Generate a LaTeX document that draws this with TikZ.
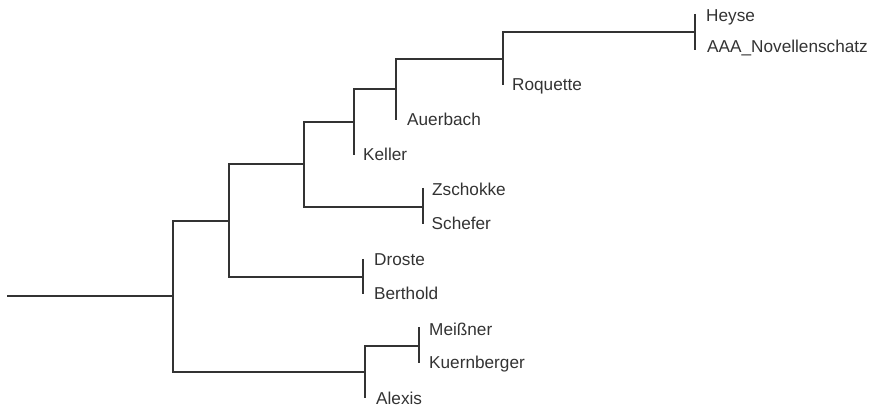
\documentclass[tikz,border=0pt]{standalone}
\usepackage{fontspec}
\setmainfont{Liberation Sans}
\definecolor{treeline}{HTML}{333333}
\definecolor{treetext}{HTML}{333333}
\begin{document}
\begin{tikzpicture}[x=1pt,y=-1pt,
  branch/.style={draw=treeline,line width=2.1pt},
  lab/.style={anchor=base west,inner sep=0pt,text=treetext,font=\fontsize{17.2}{19}\selectfont}]
\useasboundingbox (0,0) rectangle (876,406);
% internal nodes
\coordinate (root) at (7,296);
\coordinate (n1) at (173,296);
\coordinate (na) at (229,221);
\coordinate (nb) at (365,372);
\coordinate (nc) at (304,164);
\coordinate (ndb) at (363,277);
\coordinate (nd) at (354,122);
\coordinate (nzs) at (423,207);
\coordinate (ne) at (396,89);
\coordinate (nf) at (503,59);
\coordinate (nha) at (695,32);
\coordinate (nmk) at (419,346);
% leaf tips
\coordinate (theyse) at (695,14);
\coordinate (taaa) at (695,50);
\coordinate (troq) at (503,85);
\coordinate (tauer) at (396,120);
\coordinate (tkel) at (354,155);
\coordinate (tzsch) at (423,188);
\coordinate (tsche) at (423,224);
\coordinate (tdros) at (363,259);
\coordinate (tbert) at (363,294);
\coordinate (tmeis) at (419,327);
\coordinate (tkuer) at (419,363);
\coordinate (talex) at (365,398);
% branches
\draw[branch] (root) -- (n1);
\draw[branch] (n1) |- (na);
\draw[branch] (n1) |- (nb);
\draw[branch] (na) |- (nc);
\draw[branch] (na) |- (ndb);
\draw[branch] (nc) |- (nd);
\draw[branch] (nc) |- (nzs);
\draw[branch] (nd) |- (ne);
\draw[branch] (nd) -- (tkel);
\draw[branch] (ne) |- (nf);
\draw[branch] (ne) -- (tauer);
\draw[branch] (nf) |- (nha);
\draw[branch] (nf) -- (troq);
\draw[branch] (nb) |- (nmk);
\draw[branch] (nb) -- (talex);
\draw[branch] (theyse) -- (taaa);
\draw[branch] (tzsch) -- (tsche);
\draw[branch] (tdros) -- (tbert);
\draw[branch] (tmeis) -- (tkuer);
% labels
\node[lab] (lheyse) at (706,21.7) {Heyse};
\node[lab] (laaa) at (707,52.7) {AAA\_Novellenschatz};
\node[lab] (lroq) at (512,91) {Roquette};
\node[lab] (lauer) at (407,126) {Auerbach};
\node[lab] (lkel) at (363,160.5) {Keller};
\node[lab] (lzsch) at (432,196) {Zschokke};
\node[lab] (lsche) at (431.5,230) {Schefer};
\node[lab] (ldros) at (374,265.7) {Droste};
\node[lab] (lbert) at (374,300) {Berthold};
\node[lab] (lmeis) at (429,335) {Meißner};
\node[lab] (lkuer) at (429,368.3) {Kuernberger};
\node[lab] (lalex) at (376,404) {Alexis};
\end{tikzpicture}
\end{document}
